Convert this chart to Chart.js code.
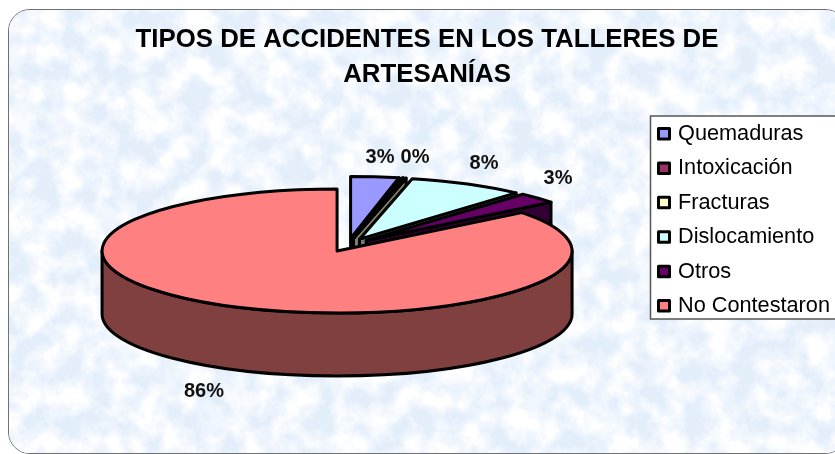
<!DOCTYPE html>
<html><head><meta charset="utf-8">
<style>
html,body{margin:0;padding:0;background:#fff;width:835px;height:454px;overflow:hidden}
#bg{position:absolute;left:8px;top:9px;width:837px;height:443px;border:1.5px solid #707070;border-radius:22px;overflow:hidden;background:#e3eefb}
#bg svg{display:block}
#wrap{position:absolute;left:0;top:0;width:835px;height:454px}
</style>
<script src="https://cdn.jsdelivr.net/npm/chart.js@4"></script>
</head><body>
<div id="bg"><svg width="840" height="443">
<filter id="m" x="0" y="0" width="100%" height="100%"><feTurbulence type="fractalNoise" baseFrequency="0.045" numOctaves="4" seed="7"/><feColorMatrix type="matrix" values="0 0 0 0 0.78  0 0 0 0 0.86  0 0 0 0 0.96  2.4 0 0 0 -0.85"/></filter>
<filter id="w" x="0" y="0" width="100%" height="100%"><feTurbulence type="fractalNoise" baseFrequency="0.04" numOctaves="4" seed="23"/><feColorMatrix type="matrix" values="0 0 0 0 1  0 0 0 0 1  0 0 0 0 1  0 2.6 0 0 -0.85"/></filter>
<rect width="840" height="443" fill="#e3eefb"/><rect width="840" height="443" filter="url(#m)"/><rect width="840" height="443" filter="url(#w)"/></svg></div>
<div id="wrap"><canvas id="c" width="835" height="454"></canvas></div>
<script>
const categories = ['Quemaduras','Intoxicación','Fracturas','Dislocamiento','Otros','No Contestaron'];
const values = [3.3, 0.1, 0.2, 8, 2.8, 85.6];
const percentLabels = ['3%','0%','','8%','3%','86%'];
const faceColors = ['#9999FF','#993366','#FFFFCC','#CCFFFF','#660066','#FF8080'];
const wallColors = ['#4D4D80','#4D1A33','#808066','#668080','#330033','#804040'];
const titleLines = ['TIPOS DE ACCIDENTES EN LOS TALLERES DE','ARTESANÍAS'];

const FONT = '"Liberation Sans", Arial, sans-serif';
const VIEW = {cx:348, cy:245, rx:235, ry:62, depth:63, explode:25};
const LABEL_POS = [[380,157],[415,157],null,[484,163],[558,178],[204,391]];
const LEGEND_BOX = {x:650.5, y:116, w:200, h:203};
const LEGEND_POS = {left:645.5, top:110.5};

function geom(el){
  const m = (el.startAngle+el.endAngle)/2, k = VIEW.ry/VIEW.rx;
  return {x:VIEW.cx+Math.cos(m)*VIEW.explode, y:VIEW.cy+Math.sin(m)*VIEW.explode*k};
}
function outerWall(ctx,g,a1,a2){
  ctx.beginPath();
  ctx.ellipse(g.x,g.y,VIEW.rx,VIEW.ry,0,a1,a2);
  ctx.ellipse(g.x,g.y+VIEW.depth,VIEW.rx,VIEW.ry,0,a2,a1,true);
  ctx.closePath();
}
function radialWall(ctx,g,a){
  const px=g.x+VIEW.rx*Math.cos(a), py=g.y+VIEW.ry*Math.sin(a);
  ctx.beginPath();
  ctx.moveTo(g.x,g.y); ctx.lineTo(px,py); ctx.lineTo(px,py+VIEW.depth); ctx.lineTo(g.x,g.y+VIEW.depth);
  ctx.closePath();
}
const pie3d = {
  id:'pie3d',
  beforeDraw(chart){
    const c = chart.ctx, b = LEGEND_BOX;
    c.save();
    c.fillStyle='#fff'; c.strokeStyle='#555'; c.lineWidth=1.5;
    c.fillRect(b.x,b.y,b.w,b.h); c.strokeRect(b.x,b.y,b.w,b.h);
    c.restore();
    chart.legend.left = LEGEND_POS.left; chart.legend.top = LEGEND_POS.top;
  },
  beforeDatasetDraw(chart){
    const c = chart.ctx, els = chart.getDatasetMeta(0).data;
    c.save();
    c.lineJoin='round'; c.lineWidth=3; c.strokeStyle='#000';
    els.forEach((el,i)=>{
      if(i<els.length-1){
        radialWall(c,geom(el),el.endAngle);
        c.fillStyle=wallColors[i]; c.fill(); c.stroke();
      }
    });
    const last = els.length-1, nc = els[last];
    outerWall(c,geom(nc),Math.max(nc.startAngle,0),Math.PI);
    c.fillStyle=wallColors[last]; c.fill(); c.stroke();
    c.restore();
    els.forEach(el=>{
      const g = geom(el);
      c.save();
      c.translate(g.x,g.y);
      c.scale(VIEW.rx/el.outerRadius,VIEW.ry/el.outerRadius);
      c.translate(-el.x,-el.y);
      el.draw(c);
      c.restore();
      c.save();
      c.lineJoin='round'; c.lineWidth=3; c.strokeStyle='#000';
      c.beginPath(); c.moveTo(g.x,g.y);
      c.ellipse(g.x,g.y,VIEW.rx,VIEW.ry,0,el.startAngle,el.endAngle);
      c.closePath(); c.stroke();
      c.restore();
    });
    return false;
  },
  afterDatasetsDraw(chart){
    const c = chart.ctx;
    c.save();
    c.fillStyle='#111'; c.font='bold 20px '+FONT; c.textAlign='center'; c.textBaseline='middle';
    percentLabels.forEach((t,i)=>{ if(t&&LABEL_POS[i]) c.fillText(t,LABEL_POS[i][0],LABEL_POS[i][1]); });
    c.restore();
  },
  afterDraw(chart){
    const c = chart.ctx, lg = chart.legend, o = lg.options.labels;
    c.save();
    c.lineWidth=3; c.strokeStyle='#000'; c.lineJoin='round';
    faceColors.forEach((col,i)=>{
      const y = LEGEND_POS.top + o.padding + i*(o.font.size+o.padding) + o.font.size/2;
      c.fillStyle=col;
      c.beginPath(); c.rect(658.5,y-5.5,11,10.5); c.fill(); c.stroke();
    });
    c.restore();
  }
};
new Chart(document.getElementById('c'),{
  type:'pie',
  data:{labels:categories,datasets:[{data:values,backgroundColor:faceColors,borderWidth:0}]},
  plugins:[pie3d],
  options:{
    responsive:false, animation:false, events:[],
    rotation:0,
    layout:{padding:{left:19}},
    plugins:{
      tooltip:{enabled:false},
      title:{display:true,text:titleLines,color:'#000',align:'center',
        font:{family:FONT,size:25.8,weight:'bold',lineHeight:1.36},padding:{top:22,bottom:4}},
      legend:{display:true,position:'right',align:'start',
        labels:{color:'#111',font:{family:FONT,size:21.7},boxWidth:9,boxHeight:9,padding:12.7,
          generateLabels:()=>categories.map((t,i)=>({text:t,fillStyle:faceColors[i],strokeStyle:'#000',lineWidth:1,hidden:false,index:i}))}}
    }
  }
});
</script>
</body></html>
